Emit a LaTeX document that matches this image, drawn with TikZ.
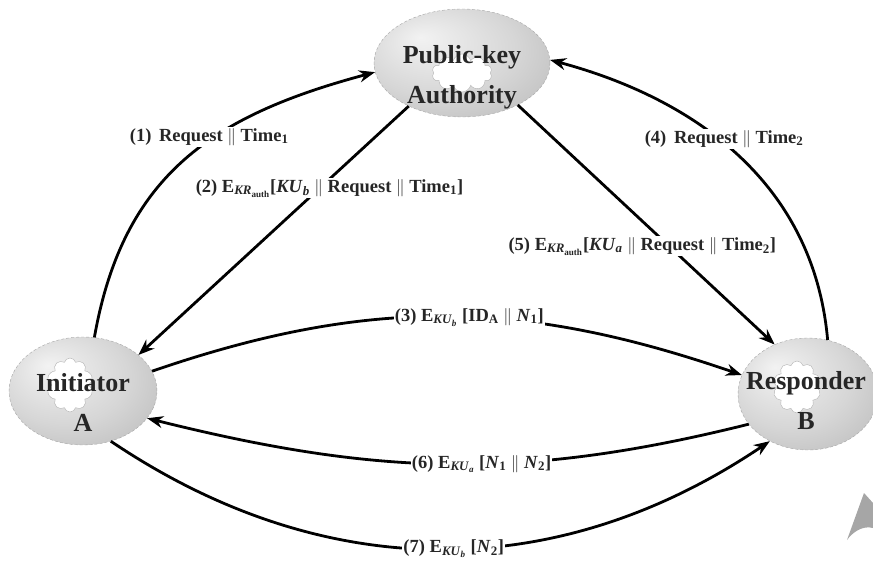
\documentclass[tikz,border=0pt]{standalone}
\usepackage{fontspec}
\setmainfont{Liberation Serif}
\usetikzlibrary{shapes.geometric,shapes.symbols,arrows.meta}
\pgfdeclareradialshading{ellshade}{\pgfpoint{-12bp}{12bp}}{color(0bp)=(gray!10); color(22bp)=(gray!32); color(42bp)=(gray!58); color(50bp)=(gray!68)}
\begin{document}
\begin{tikzpicture}[x=1pt, y=1pt,
  party/.style={ellipse, shading=ellshade, draw=gray!70, densely dashed, thin, inner sep=0pt},
  blob/.style={cloud, cloud puffs=10, cloud ignores aspect, fill=white, draw=gray!60, thin, inner sep=0pt},
  partyname/.style={align=center, font={\fontsize{26}{40}\selectfont\bfseries}, text=black!85},
  msg/.style={fill=white, inner sep=1pt, font={\fontsize{18.5}{20}\selectfont\bfseries}, text=black!85},
  arrow/.style={-{Stealth[length=16pt, width=12pt]}, line width=2.8pt},
]
\useasboundingbox (0,0) rectangle (873,563);

% Parties
\node[party, minimum width=176, minimum height=108] (auth) at (462,500) {};
\node[party, minimum width=148, minimum height=108] (init) at (83,172) {};
\node[party, minimum width=140, minimum height=112] (resp) at (808,169) {};

% White blobs inside
\node[blob, minimum width=60, minimum height=38] (authcloud) at (462,490) {};
\node[blob, minimum width=46, minimum height=54] (initcloud) at (70,178) {};
\node[blob, minimum width=48, minimum height=52] (respcloud) at (797,176) {};

% Names
\node[partyname] (authname) at (462,486) {Public-key\\Authority};
\node[partyname] (initname) at (83,161) {Initiator\\A};
\node[partyname] (respname) at (806,162) {Responder\\B};

% Requests to the authority
\draw[arrow] (init.78) to[out=80, in=195, looseness=1.1]
  node[msg, pos=0.6, xshift=-6] {(1)\, Request $\|$ Time\textsubscript{1}} (auth.186);
\draw[arrow] (resp.70) to[out=95, in=-15]
  node[msg, pos=0.57, xshift=6] {(4)\, Request $\|$ Time\textsubscript{2}} (auth.2);

% Replies from the authority
\draw[arrow] (auth.219) -- node[msg, pos=0.33, xshift=10]
  {(2) E\textsubscript{\textit{KR}\textsubscript{auth}}[\textit{KU}\textsubscript{\textit{b}} $\|$ Request $\|$ Time\textsubscript{1}]} (init.33);
\draw[arrow] (auth.323) -- node[msg, pos=0.59, xshift=-27]
  {(5) E\textsubscript{\textit{KR}\textsubscript{auth}}[\textit{KU}\textsubscript{\textit{a}} $\|$ Request $\|$ Time\textsubscript{2}]} (resp.124);

% Exchange between A and B
\draw[arrow] (init.16) to[out=19, in=161]
  node[msg, pos=0.54] {(3) E\textsubscript{\textit{KU}\textsubscript{\textit{b}}} [ID\textsubscript{A} $\|$ \textit{N}\textsubscript{1}]} (resp.164);
\draw[arrow] (resp.207) to[out=194, in=-14]
  node[msg, pos=0.44] {(6) E\textsubscript{\textit{KU}\textsubscript{\textit{a}}} [\textit{N}\textsubscript{1} $\|$ \textit{N}\textsubscript{2}]} (init.337);
\draw[arrow] (init.299) to[out=-34, in=214]
  node[msg, pos=0.52] {(7) E\textsubscript{\textit{KU}\textsubscript{\textit{b}}} [\textit{N}\textsubscript{2}]} (resp.231);

% Gray mark in the corner
\fill[gray!70] (847,23) -- (864,70) -- (873,60) -- (873,35)
  .. controls (862,38) and (852,30) .. (847,23);
\end{tikzpicture}
\end{document}
